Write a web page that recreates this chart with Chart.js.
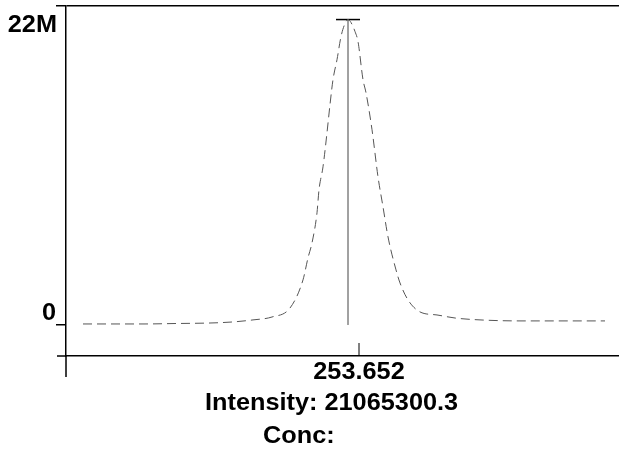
<!DOCTYPE html>
<html lang="en">
<head>
    <meta charset="UTF-8" />
    <title>Peak</title>
    <script src="https://cdn.jsdelivr.net/npm/chart.js@4"></script>
    <style>
        html, body { margin: 0; padding: 0; background: #fff; }
        canvas { display: block; }
    </style>
</head>
<body>
    <canvas id="peakChart" width="619" height="453"></canvas>
<script>
    // wavelength (nm)
    const wavelengths = [
        253.6244, 253.6281, 253.6306, 253.6336, 253.6373, 253.6394, 253.6414, 253.6433,
        253.6451, 253.6464, 253.6469, 253.6473, 253.6478, 253.6480, 253.6484, 253.6488,
        253.6491, 253.6494, 253.6498, 253.6502, 253.6506, 253.6509, 253.6512, 253.6516,
        253.6519, 253.6524, 253.6527, 253.6533, 253.6539, 253.6544, 253.6549, 253.6557,
        253.6561, 253.6569, 253.6581, 253.6598, 253.6616, 253.6641, 253.6681, 253.6721,
        253.6766
    ];
    // intensity in millions
    const intensities = [
        0.07, 0.07, 0.07, 0.10, 0.14, 0.21, 0.35, 0.55,
        1.17, 3.11, 4.63, 5.66, 7.74, 9.32, 10.91, 13.26,
        15.20, 16.92, 18.30, 19.89, 20.79, 21.07, 20.86, 20.24,
        19.55, 16.92, 16.02, 13.47, 10.22, 8.15, 6.08, 3.80,
        2.90, 1.73, 0.90, 0.69, 0.48, 0.35, 0.28, 0.28,
        0.28
    ];

    const peakWavelength = 253.6509;
    const peakIntensity = 21065300.3;
    const tickWavelength = 253.652;
    const yTicks = [0, 22000000];
    const yTickLabels = ['0', '22M'];
    const infoLines = ['Intensity: 21065300.3', 'Conc:'];

    const curve = wavelengths.map((w, i) => ({ x: w, y: intensities[i] * 1e6 }));

    const FONT = 'bold 23px "Liberation Sans", Arial, sans-serif';

    function stretchedText(ctx, text, x, y, align) {
        ctx.save();
        ctx.translate(x, y);
        ctx.scale(1.1, 1);
        ctx.textAlign = align;
        ctx.textBaseline = 'alphabetic';
        ctx.fillText(text, 0, 0);
        ctx.restore();
    }

    // axis extras and the labels
    const decorations = {
        id: 'decorations',
        afterDraw(chart) {
            const ctx = chart.ctx;
            const xs = chart.scales.x;
            const ys = chart.scales.y;
            const area = chart.chartArea;
            ctx.save();
            ctx.strokeStyle = '#000';
            ctx.lineWidth = 1.5;
            ctx.beginPath();
            // y axis runs on below the x axis
            ctx.moveTo(area.left, area.bottom);
            ctx.lineTo(area.left, area.bottom + 21);
            // x axis runs on left of the y axis
            ctx.moveTo(area.left - 9, area.bottom);
            ctx.lineTo(area.left, area.bottom);
            ctx.stroke();

            // inner tick on the x axis
            const tx = xs.getPixelForValue(tickWavelength);
            ctx.lineWidth = 1;
            ctx.beginPath();
            ctx.moveTo(tx, area.bottom - 13);
            ctx.lineTo(tx, area.bottom);
            ctx.stroke();

            ctx.fillStyle = '#000';
            ctx.font = FONT;
            stretchedText(ctx, yTickLabels[1], area.left - 9, ys.getPixelForValue(yTicks[1]) + 26, 'right');
            stretchedText(ctx, yTickLabels[0], area.left - 10, ys.getPixelForValue(yTicks[0]) - 5, 'right');
            stretchedText(ctx, tickWavelength.toFixed(3), tx, area.bottom + 23, 'center');
            stretchedText(ctx, infoLines[0], 205, area.bottom + 54, 'left');
            stretchedText(ctx, infoLines[1], 263, area.bottom + 87, 'left');
            ctx.restore();
        }
    };

    new Chart(document.getElementById('peakChart'), {
        type: 'line',
        data: {
            datasets: [
                {
                    data: curve,
                    borderColor: '#555',
                    borderWidth: 1,
                    borderDash: [9, 5],
                    pointRadius: 0,
                    cubicInterpolationMode: 'monotone'
                },
                {
                    data: [{ x: peakWavelength, y: 0 }, { x: peakWavelength, y: peakIntensity }],
                    borderColor: '#444',
                    borderWidth: 1,
                    pointRadius: 0
                },
                {
                    data: [{ x: peakWavelength - 0.0012, y: peakIntensity }, { x: peakWavelength + 0.0012, y: peakIntensity }],
                    borderColor: '#000',
                    borderWidth: 1.5,
                    pointRadius: 0
                }
            ]
        },
        options: {
            responsive: false,
            animation: false,
            devicePixelRatio: 1,
            layout: { padding: { top: 6, right: 0, left: 0, bottom: 0 } },
            plugins: { legend: false, tooltip: { enabled: false } },
            scales: {
                x: {
                    type: 'linear',
                    min: 253.6227,
                    max: 253.678,
                    grid: { display: false },
                    ticks: { display: false },
                    border: { display: true, color: '#000', width: 1.5 },
                    afterBuildTicks(s) { s.ticks = []; },
                    afterFit(s) { s.height = 97; }
                },
                y: {
                    min: -2140000,
                    max: 22000000,
                    afterBuildTicks(s) { s.ticks = yTicks.map(v => ({ value: v })); },
                    ticks: { display: false },
                    grid: {
                        drawOnChartArea: true,
                        tickLength: 10,
                        tickColor: '#000',
                        lineWidth: 1.5,
                        color: (c) => (c.tick && c.tick.value === yTicks[1]) ? '#000' : 'rgba(0,0,0,0)'
                    },
                    border: { display: true, color: '#000', width: 1.5 },
                    afterFit(s) { s.width = 66; }
                }
            }
        },
        plugins: [decorations]
    });
</script>
</body>
</html>
